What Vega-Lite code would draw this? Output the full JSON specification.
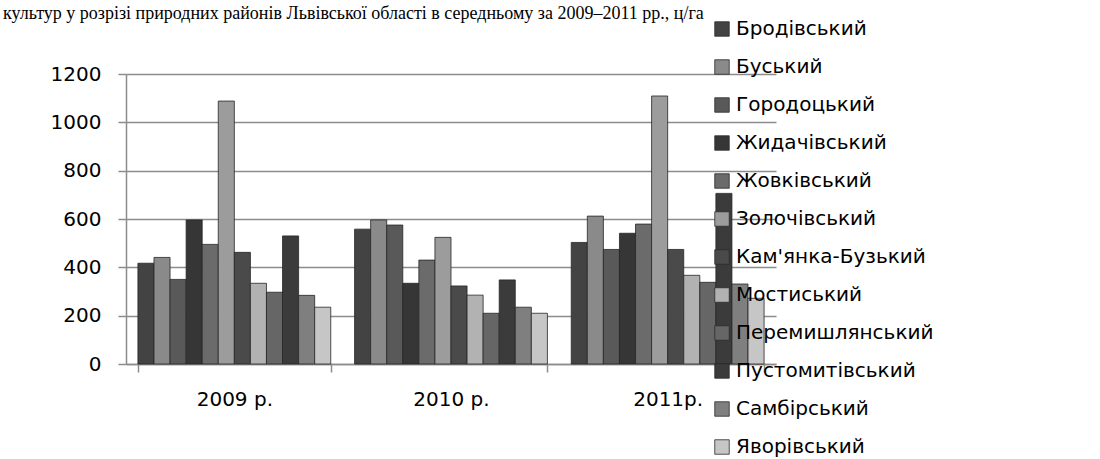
{
  "$schema": "https://vega.github.io/schema/vega-lite/v6.json",
  "width": 650,
  "height": 290,
  "autosize": {"type": "none"},
  "padding": {"left": 126, "top": 74, "right": 324, "bottom": 95},
  "background": "white",
  "title": {
    "text": "культур у розрізі природних районів Львівської області в середньому за 2009–2011 рр., ц/га",
    "anchor": "start",
    "frame": "group",
    "dx": -123,
    "offset": -18,
    "baseline": "alphabetic",
    "font": "Liberation Serif",
    "fontSize": 18,
    "fontWeight": "normal",
    "color": "black"
  },
  "data": {
    "values": [
      {"year": "2009 р.", "district": "Бродівський", "value": 417},
      {"year": "2009 р.", "district": "Буський", "value": 441},
      {"year": "2009 р.", "district": "Городоцький", "value": 350},
      {"year": "2009 р.", "district": "Жидачівський", "value": 596},
      {"year": "2009 р.", "district": "Жовківський", "value": 495},
      {"year": "2009 р.", "district": "Золочівський", "value": 1088},
      {"year": "2009 р.", "district": "Кам'янка-Бузький", "value": 462},
      {"year": "2009 р.", "district": "Мостиський", "value": 334},
      {"year": "2009 р.", "district": "Перемишлянський", "value": 297},
      {"year": "2009 р.", "district": "Пустомитівський", "value": 530},
      {"year": "2009 р.", "district": "Самбірський", "value": 284},
      {"year": "2009 р.", "district": "Яворівський", "value": 235},
      {"year": "2010 р.", "district": "Бродівський", "value": 558},
      {"year": "2010 р.", "district": "Буський", "value": 596},
      {"year": "2010 р.", "district": "Городоцький", "value": 575},
      {"year": "2010 р.", "district": "Жидачівський", "value": 334},
      {"year": "2010 р.", "district": "Жовківський", "value": 430},
      {"year": "2010 р.", "district": "Золочівський", "value": 524},
      {"year": "2010 р.", "district": "Кам'янка-Бузький", "value": 323},
      {"year": "2010 р.", "district": "Мостиський", "value": 285},
      {"year": "2010 р.", "district": "Перемишлянський", "value": 210},
      {"year": "2010 р.", "district": "Пустомитівський", "value": 348},
      {"year": "2010 р.", "district": "Самбірський", "value": 235},
      {"year": "2010 р.", "district": "Яворівський", "value": 210},
      {"year": "2011р.", "district": "Бродівський", "value": 503},
      {"year": "2011р.", "district": "Буський", "value": 612},
      {"year": "2011р.", "district": "Городоцький", "value": 474},
      {"year": "2011р.", "district": "Жидачівський", "value": 541},
      {"year": "2011р.", "district": "Жовківський", "value": 579},
      {"year": "2011р.", "district": "Золочівський", "value": 1109},
      {"year": "2011р.", "district": "Кам'янка-Бузький", "value": 474},
      {"year": "2011р.", "district": "Мостиський", "value": 367},
      {"year": "2011р.", "district": "Перемишлянський", "value": 338},
      {"year": "2011р.", "district": "Пустомитівський", "value": 706},
      {"year": "2011р.", "district": "Самбірський", "value": 331},
      {"year": "2011р.", "district": "Яворівський", "value": 272}
    ]
  },
  "mark": {"type": "bar", "stroke": "#262626", "strokeWidth": 0.8},
  "encoding": {
    "x": {
      "field": "year",
      "type": "nominal",
      "sort": ["2009 р.", "2010 р.", "2011р."],
      "scale": {"paddingInner": 0.11, "paddingOuter": 0.055},
      "axis": {
        "title": null,
        "labelAngle": 0,
        "labelFontSize": 20,
        "labelColor": "black",
        "labelPadding": 17,
        "domainColor": "#8c8c8c",
        "domainWidth": 1.5,
        "tickColor": "#8c8c8c",
        "tickWidth": 1.5,
        "tickSize": 8,
        "tickBand": "extent",
        "grid": false
      }
    },
    "xOffset": {
      "field": "district",
      "type": "nominal",
      "sort": ["Бродівський", "Буський", "Городоцький", "Жидачівський", "Жовківський", "Золочівський", "Кам'янка-Бузький", "Мостиський", "Перемишлянський", "Пустомитівський", "Самбірський", "Яворівський"],
      "scale": {"paddingInner": 0, "paddingOuter": 0}
    },
    "y": {
      "field": "value",
      "type": "quantitative",
      "scale": {"domain": [0, 1200], "nice": false},
      "axis": {
        "title": null,
        "format": "d",
        "values": [0, 200, 400, 600, 800, 1000, 1200],
        "labelFontSize": 20,
        "labelColor": "black",
        "labelPadding": 17,
        "domainColor": "#8c8c8c",
        "domainWidth": 1.5,
        "tickColor": "#8c8c8c",
        "tickWidth": 1.5,
        "tickSize": 8,
        "gridColor": "#8c8c8c",
        "gridWidth": 1.5
      }
    },
    "color": {
      "field": "district",
      "type": "nominal",
      "scale": {
        "domain": ["Бродівський", "Буський", "Городоцький", "Жидачівський", "Жовківський", "Золочівський", "Кам'янка-Бузький", "Мостиський", "Перемишлянський", "Пустомитівський", "Самбірський", "Яворівський"],
        "range": ["#434343", "#8a8a8a", "#595959", "#363636", "#6b6b6b", "#9c9c9c", "#4a4a4a", "#b2b2b2", "#666666", "#3b3b3b", "#7f7f7f", "#c6c6c6"]
      },
      "legend": {
        "title": null,
        "orient": "none",
        "legendX": 586,
        "legendY": -55,
        "symbolType": "square",
        "symbolSize": 210,
        "symbolStrokeColor": "#2b2b2b",
        "symbolStrokeWidth": 0.8,
        "labelFontSize": 20,
        "labelColor": "black",
        "labelOffset": 4,
        "labelLimit": 400,
        "rowPadding": 18
      }
    }
  },
  "config": {"view": {"stroke": null}, "font": "DejaVu Sans"}
}
